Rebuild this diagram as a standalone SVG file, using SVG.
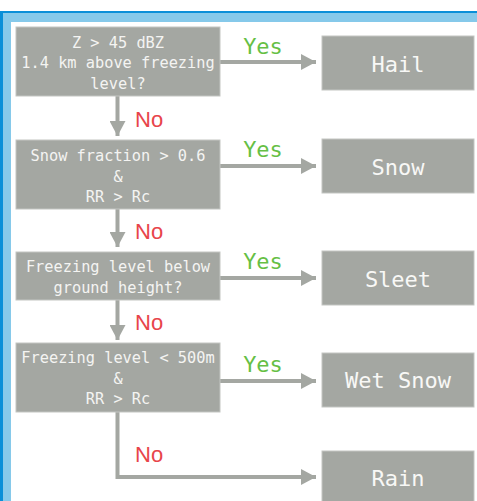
<svg xmlns="http://www.w3.org/2000/svg" width="477" height="501" viewBox="0 0 477 501">
  <style>
    .box { fill: #a4a7a2; stroke: #c3c5c2; stroke-width: 1; }
    .cond { font-family: "DejaVu Sans Mono", monospace; font-size: 15.3px; fill: #f4f4f2; text-anchor: middle; }
    .result { font-family: "DejaVu Sans Mono", monospace; font-size: 22px; fill: #f8f8f6; text-anchor: middle; }
    .yes { font-family: "DejaVu Sans Mono", monospace; font-size: 22px; fill: #66bf45; text-anchor: middle; }
    .no { font-family: "Liberation Sans", Arial, sans-serif; font-size: 22px; fill: #e8444a; }
    .link { fill: none; stroke: #a4a7a2; stroke-width: 4; marker-end: url(#head); }
  </style>
  <defs>
    <marker id="head" viewBox="0 0 15 16" refX="15" refY="8" markerWidth="15" markerHeight="16" markerUnits="userSpaceOnUse" orient="auto">
      <path d="M0,0 L15,8 L0,16 Z" fill="#a4a7a2"/>
    </marker>
  </defs>

  <!-- page background and blue frame -->
  <rect x="0" y="0" width="477" height="501" fill="#ffffff"/>
  <g id="frame">
    <rect x="0" y="11" width="477" height="11" fill="#86c9ea"/>
    <rect x="0" y="11" width="11" height="490" fill="#86c9ea"/>
    <rect x="0" y="11" width="477" height="2" fill="#0a8fd8"/>
    <rect x="0" y="11" width="3" height="490" fill="#0a8fd8"/>
  </g>

  <!-- connectors -->
  <g id="connectors">
    <path class="link" d="M220,62 H316"/>
    <path class="link" d="M220,166 H316"/>
    <path class="link" d="M220,278 H316"/>
    <path class="link" d="M220,381 H316"/>
    <path class="link" d="M117.5,96 V136"/>
    <path class="link" d="M117.5,209 V247"/>
    <path class="link" d="M117.5,300 V340"/>
    <path class="link" d="M117.5,412 V477 H316"/>
    <text class="yes" x="263" y="54">Yes</text>
    <text class="yes" x="263" y="157">Yes</text>
    <text class="yes" x="263" y="269">Yes</text>
    <text class="yes" x="263" y="372">Yes</text>
    <text class="no" x="135" y="127">No</text>
    <text class="no" x="135" y="239">No</text>
    <text class="no" x="135" y="330">No</text>
    <text class="no" x="135" y="462">No</text>
  </g>

  <!-- decision nodes -->
  <g id="q-hail">
    <rect class="box" x="16" y="27" width="204" height="69"/>
    <text class="cond" x="118" y="47.5">Z &gt; 45 dBZ</text>
    <text class="cond" x="118" y="68">1.4 km above freezing</text>
    <text class="cond" x="118" y="88.5">level?</text>
  </g>
  <g id="q-snow">
    <rect class="box" x="16" y="140" width="204" height="69"/>
    <text class="cond" x="118" y="161">Snow fraction &gt; 0.6</text>
    <text class="cond" x="118" y="181.5">&amp;</text>
    <text class="cond" x="118" y="202">RR &gt; Rc</text>
  </g>
  <g id="q-sleet">
    <rect class="box" x="16" y="252" width="204" height="48"/>
    <text class="cond" x="118" y="272">Freezing level below</text>
    <text class="cond" x="118" y="292.5">ground height?</text>
  </g>
  <g id="q-wetsnow">
    <rect class="box" x="16" y="343" width="204" height="69"/>
    <text class="cond" x="118" y="363">Freezing level &lt; 500m</text>
    <text class="cond" x="118" y="383.5">&amp;</text>
    <text class="cond" x="118" y="404">RR &gt; Rc</text>
  </g>

  <!-- outcome nodes -->
  <g id="hail">
    <rect class="box" x="322" y="36" width="152" height="54"/>
    <text class="result" x="398" y="72">Hail</text>
  </g>
  <g id="snow">
    <rect class="box" x="322" y="139" width="152" height="54"/>
    <text class="result" x="398" y="175">Snow</text>
  </g>
  <g id="sleet">
    <rect class="box" x="322" y="251" width="152" height="54"/>
    <text class="result" x="398" y="287">Sleet</text>
  </g>
  <g id="wet-snow">
    <rect class="box" x="322" y="353" width="152" height="54"/>
    <text class="result" x="398" y="388">Wet Snow</text>
  </g>
  <g id="rain">
    <rect class="box" x="322" y="451" width="152" height="60"/>
    <text class="result" x="398" y="486">Rain</text>
  </g>
</svg>
